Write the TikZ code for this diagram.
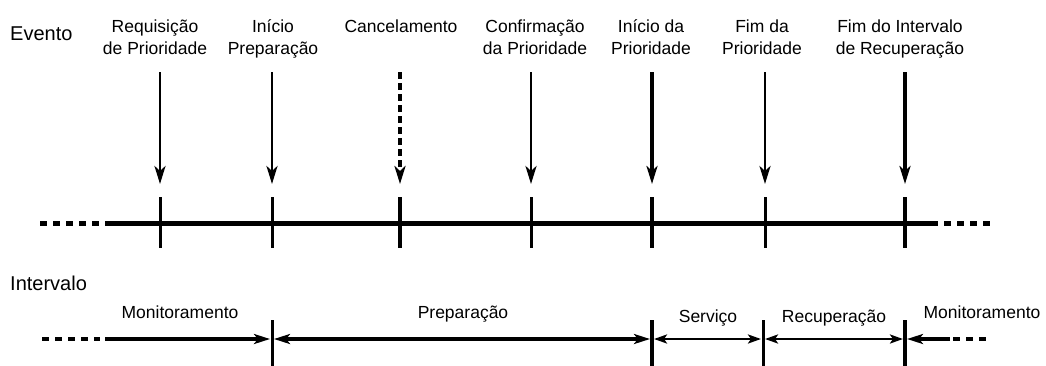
\documentclass[tikz,border=0pt]{standalone}
\usepackage{fontspec}
\setmainfont{Liberation Sans}
\usetikzlibrary{arrows.meta}
\begin{document}
\begin{tikzpicture}[x=1pt,y=-1pt,
  lbl/.style={font=\fontsize{17.5}{21.5}\selectfont, align=center, inner sep=0, anchor=base},
  ttl/.style={font=\fontsize{20}{24}\selectfont, inner sep=0, anchor=base west},
  evarrow/.style={line width=#1, -{Stealth[length=18pt,width=11pt,inset=5pt]}},
  dasharrow/.style={line width=4pt, dash pattern=on 7pt off 4pt, -{Stealth[length=18pt,width=11pt,inset=5pt]}},
  tick/.style={line width=#1},
  mainline/.style={line width=5pt},
  dashline/.style={line width=#1, dash pattern=on 7pt off 6pt},
  bigarr/.style={line width=4pt},
  smallarr/.style={line width=2.5pt},
  hb/.tip={Stealth[length=16pt,width=10pt,inset=4pt]},
  hs/.tip={Stealth[length=13pt,width=9pt,inset=3pt]}
]
\useasboundingbox (0,0) rectangle (1046,365);
\fill[white] (0,0) rectangle (1046,365);

% titles
\node[ttl] (evento) at (10,40) {Evento};
\node[ttl] (intervalo) at (10,290) {Intervalo};

% event labels (base = baseline of last line)
\node[lbl] (l1) at (155,54) {Requisição\\de Prioridade};
\node[lbl] (l2) at (273,54) {Início\\Preparação};
\node[lbl] (l3) at (401,32) {Cancelamento};
\node[lbl] (l4) at (535,54) {Confirmação\\da Prioridade};
\node[lbl] (l5) at (651,54) {Início da\\Prioridade};
\node[lbl] (l6) at (762,54) {Fim da\\Prioridade};
\node[lbl] (l7) at (900,54) {Fim do Intervalo\\de Recuperação};

% arrow ends
\foreach \n/\x in {1/160,2/272,3/400,4/531,5/652,6/765,7/905}{
  \coordinate (s\n) at (\x,72);
  \coordinate (e\n) at (\x,184);
  \coordinate (tt\n) at (\x,197);
  \coordinate (tb\n) at (\x,248);
}
\draw[evarrow=2.8pt] (s1) -- (e1);
\draw[evarrow=2.8pt] (s2) -- (e2);
\draw[dasharrow] (s3) -- (e3);
\draw[evarrow=2.8pt] (s4) -- (e4);
\draw[evarrow=4pt] (s5) -- (e5);
\draw[evarrow=2.8pt] (s6) -- (e6);
\draw[evarrow=4pt] (s7) -- (e7);

% main timeline
\coordinate (ml0) at (40,223);
\coordinate (ml1) at (100,223);
\coordinate (ml2) at (105,223);
\coordinate (ml3) at (938,223);
\coordinate (ml4) at (944,223);
\coordinate (ml5) at (990,223);
\draw[dashline=5pt] (ml0) -- (ml1);
\draw[mainline] (ml2) -- (ml3);
\draw[dashline=5pt] (ml4) -- (ml5);

\draw[tick=3pt] (tt1) -- (tb1);
\draw[tick=3pt] (tt2) -- (tb2);
\draw[tick=4pt] (tt3) -- (tb3);
\draw[tick=3pt] (tt4) -- (tb4);
\draw[tick=4pt] (tt5) -- (tb5);
\draw[tick=3pt] (tt6) -- (tb6);
\draw[tick=4.5pt] (tt7) -- (tb7);

% interval ticks
\foreach \n/\x in {1/272,2/652,3/763,4/905}{
  \coordinate (bt\n) at (\x,320);
  \coordinate (bb\n) at (\x,366);
  \coordinate (bm\n) at (\x,339);
}
\draw[tick=3pt] (bt1) -- (bb1);
\draw[tick=3.5pt] (bt2) -- (bb2);
\draw[tick=3pt] (bt3) -- (bb3);
\draw[tick=4pt] (bt4) -- (bb4);

% interval arrows
\coordinate (il0) at (42,339);
\coordinate (il1) at (100,339);
\coordinate (il2) at (105,339);
\coordinate (ir0) at (950,339);
\coordinate (ir1) at (953,339);
\coordinate (ir2) at (990,339);
\draw[dashline=4pt] (il0) -- (il1);
\draw[bigarr, -hb, shorten >=2pt] (il2) -- (bm1);
\draw[bigarr, hb-hb, shorten <=2pt, shorten >=2pt] (bm1) -- (bm2);
\draw[smallarr, hs-hs, shorten <=2pt, shorten >=2pt] (bm2) -- (bm3);
\draw[smallarr, hs-hs, shorten <=2pt, shorten >=2pt] (bm3) -- (bm4);
\draw[bigarr, -hb, shorten >=2pt] (ir0) -- (bm4);
\draw[dashline=4pt] (ir1) -- (ir2);

% interval labels
\node[lbl] (m1) at (180,318) {Monitoramento};
\node[lbl] (m2) at (463,318) {Preparação};
\node[lbl] (m3) at (708,322) {Serviço};
\node[lbl] (m4) at (834,322) {Recuperação};
\node[lbl] (m5) at (982,318) {Monitoramento};
\end{tikzpicture}
\end{document}
